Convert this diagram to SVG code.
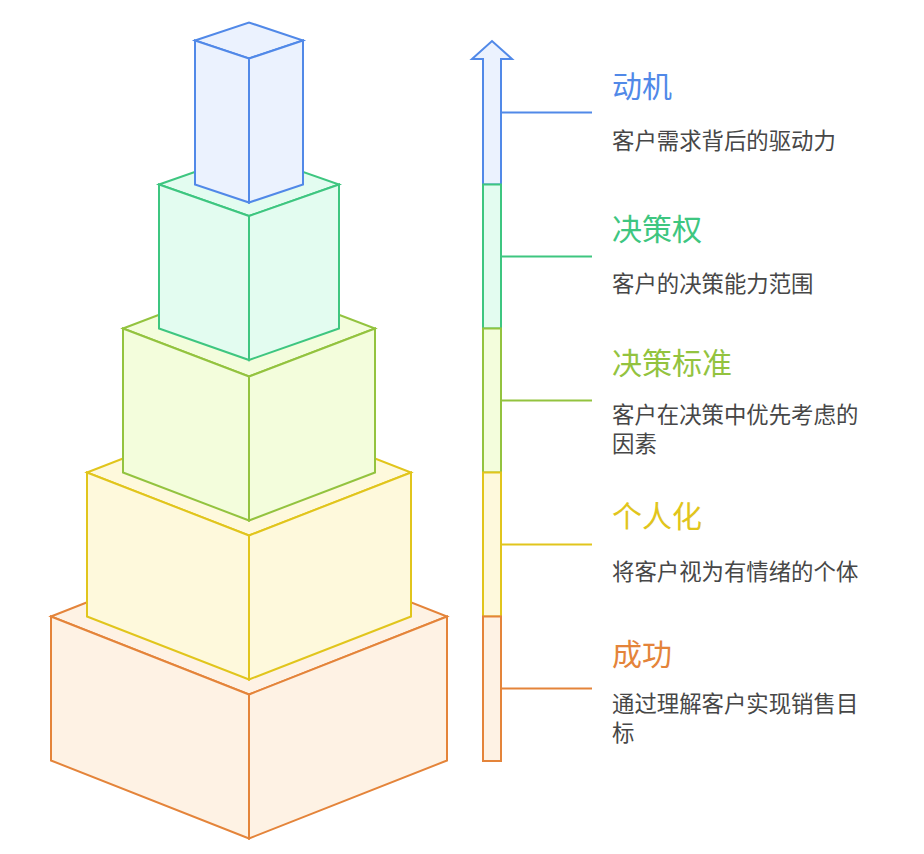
<svg xmlns="http://www.w3.org/2000/svg" width="924" height="854" viewBox="0 0 924 854">
<style>
.face{stroke-width:2;stroke-linejoin:miter}
.t{font-family:"Noto Sans CJK SC","Noto Sans",sans-serif;font-size:30px}
.d{font-family:"Noto Sans CJK SC","Noto Sans",sans-serif;font-size:22.4px;fill:#474747}
.o{stroke:#e4843a;fill:#fef2e4}
.y{stroke:#e1c51c;fill:#fef9dc}
.l{stroke:#93c33f;fill:#f3fddc}
.g{stroke:#3ec680;fill:#e3fcf0}
.b{stroke:#5189e8;fill:#ebf2fe}
.conn line{stroke-width:2}
</style>
<rect width="924" height="854" fill="#ffffff"/>

<g id="level-success">
<polygon class="face o" points="51,616.5 249,538.5 447,616.5 249,694.5"/>
<polygon class="face o" points="51,616.5 249,694.5 249,838.5 51,760.5"/>
<polygon class="face o" points="249,694.5 447,616.5 447,760.5 249,838.5"/>
</g>
<g id="level-personal">
<polygon class="face y" points="87,472.5 249,409.5 411,472.5 249,535.5"/>
<polygon class="face y" points="87,472.5 249,535.5 249,679.5 87,616.5"/>
<polygon class="face y" points="249,535.5 411,472.5 411,616.5 249,679.5"/>
</g>
<g id="level-criteria">
<polygon class="face l" points="123,328.5 249,280.5 375,328.5 249,376.5"/>
<polygon class="face l" points="123,328.5 249,376.5 249,520.5 123,472.5"/>
<polygon class="face l" points="249,376.5 375,328.5 375,472.5 249,520.5"/>
</g>
<g id="level-authority">
<polygon class="face g" points="159,184.5 249,153 339,184.5 249,216"/>
<polygon class="face g" points="159,184.5 249,216 249,360 159,328.5"/>
<polygon class="face g" points="249,216 339,184.5 339,328.5 249,360"/>
</g>
<g id="level-motivation">
<polygon class="face b" points="195,40.5 249,22.5 303,40.5 249,58.5"/>
<polygon class="face b" points="195,40.5 249,58.5 249,202.5 195,184.5"/>
<polygon class="face b" points="249,58.5 303,40.5 303,184.5 249,202.5"/>
</g>

<g id="scale-bar">
<polygon class="face b" points="483,184.5 483,59 472,59 492,41 512,59 501,59 501,184.5"/>
<rect class="face g" x="483" y="184.5" width="18" height="144"/>
<rect class="face l" x="483" y="328.5" width="18" height="144"/>
<rect class="face y" x="483" y="472.5" width="18" height="144"/>
<rect class="face o" x="483" y="616.5" width="18" height="144.5"/>
</g>

<g id="connectors" class="conn">
<line x1="501" y1="112.5" x2="592" y2="112.5" stroke="#5189e8"/>
<line x1="501" y1="256.5" x2="592" y2="256.5" stroke="#3ec680"/>
<line x1="501" y1="400.5" x2="592" y2="400.5" stroke="#93c33f"/>
<line x1="501" y1="544.5" x2="592" y2="544.5" stroke="#e1c51c"/>
<line x1="501" y1="688.5" x2="592" y2="688.5" stroke="#e4843a"/>
</g>

<g id="label-motivation">
<text class="t" x="612" y="96.5" fill="#5189e8">动机</text>
<text class="d" x="612" y="148.5">客户需求背后的驱动力</text>
</g>
<g id="label-authority">
<text class="t" x="612" y="239.5" fill="#3ec680">决策权</text>
<text class="d" x="612" y="292">客户的决策能力范围</text>
</g>
<g id="label-criteria">
<text class="t" x="612" y="374" fill="#93c33f">决策标准</text>
<text class="d" x="612" y="422.8">客户在决策中优先考虑的<tspan x="612" dy="28.7">因素</tspan></text>
</g>
<g id="label-personal">
<text class="t" x="612" y="527" fill="#e1c51c">个人化</text>
<text class="d" x="612" y="580">将客户视为有情绪的个体</text>
</g>
<g id="label-success">
<text class="t" x="612" y="664.5" fill="#e4843a">成功</text>
<text class="d" x="612" y="711.8">通过理解客户实现销售目<tspan x="612" dy="28.7">标</tspan></text>
</g>
</svg>
